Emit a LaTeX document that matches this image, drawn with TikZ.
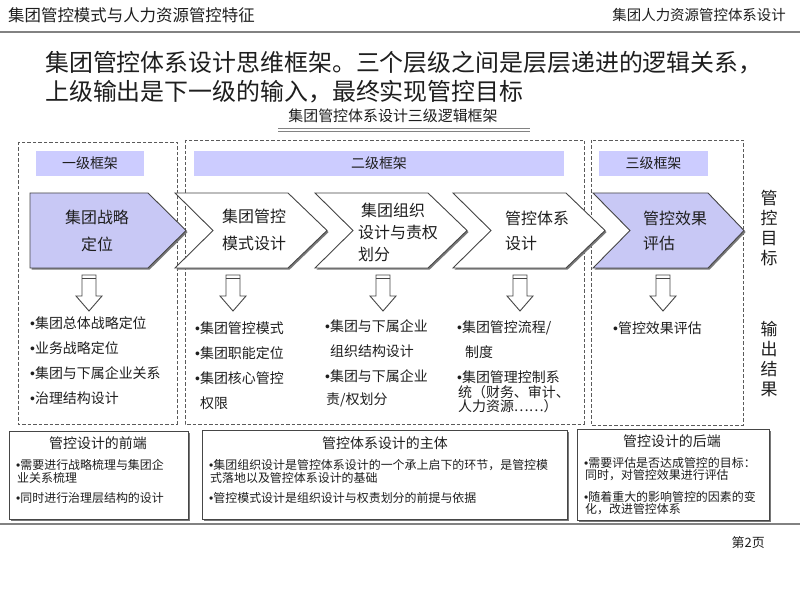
\documentclass[tikz,border=0pt]{standalone}
\usepackage{fontspec}
\setmainfont{Noto Sans CJK SC}
\newfontfamily\bulfont{Liberation Sans}
\newcommand\bul{{\bulfont •}}
\definecolor{lavfill}{RGB}{204,204,255}
\definecolor{chevfill}{RGB}{200,200,245}
\definecolor{dashgray}{RGB}{90,90,90}
\definecolor{chevline}{RGB}{70,70,70}
\definecolor{shadowgray}{RGB}{120,120,120}
\definecolor{textc}{RGB}{30,30,30}
\definecolor{rulegray}{RGB}{130,130,130}
\newcommand\hollowarrow[2]{%
  \draw[harrow] ({#1-7},275) -- ({#1+7},275) -- ({#1+7},296) -- ({#1+13},296) -- (#1,311) -- ({#1-13},296) -- ({#1-7},296) -- cycle;
  \draw[harrow] ({#1-7},278.5) -- ({#1+7},278.5);
  \coordinate (#2) at (#1,311);}
\begin{document}
\begin{tikzpicture}[x=1bp,y=-1bp,
  every node/.style={inner sep=0pt, text=textc},
  fs/.style={font=\fontsize{#1}{#1}\selectfont},
  dbox/.style={draw=dashgray, line width=0.9bp, dash pattern=on 3.5bp off 2bp},
  lblbox/.style={fill=lavfill, font=\fontsize{14}{14}\selectfont, minimum height=25bp},
  chev/.style={draw=chevline, line width=0.9bp},
  shad/.style={fill=shadowgray, draw=none},
  item/.style={anchor=west, font=\fontsize{14}{14}\selectfont},
  sitem/.style={anchor=west, font=\fontsize{12}{12}\selectfont},
  stitle/.style={font=\fontsize{14}{14}\selectfont},
  sbox/.style={draw=chevline, fill=white, line width=1bp},
  harrow/.style={draw=chevline, fill=white, line width=0.9bp},
  ctext/.style={anchor=west, font=\fontsize{16}{16}\selectfont},
  vtext/.style={font=\fontsize{17}{20}\selectfont, align=center},
]
\useasboundingbox[fill=white] (0,0) rectangle (800,600);

% header
\node[anchor=west, fs=16.5] (hl) at (8,15) {集团管控模式与人力资源管控特征};
\node[anchor=east, fs=14.5] (hr) at (786,15) {集团人力资源管控体系设计};
\draw[rulegray, line width=2.5bp] (0,32) -- (800,32);

% title
\node[anchor=west, fs=24] (t1) at (45,63) {集团管控体系设计思维框架。三个层级之间是层层递进的逻辑关系，};
\node[anchor=west, fs=24] (t2) at (45,92) {上级输出是下一级的输入，最终实现管控目标};
\node[fs=15] (sub) at (393,116) {集团管控体系设计三级逻辑框架};
\draw[rulegray, line width=0.9bp] (278,128.5) -- (530,128.5);
\draw[rulegray, line width=0.9bp] (278,131.5) -- (530,131.5);

% dashed frames
\draw[dbox] (18,142) rectangle (177,424);
\draw[dbox] (185,140) rectangle (584,424);
\draw[dbox] (591,140) rectangle (743,425);

% level labels
\node[lblbox, minimum width=108bp] (lab1) at (90,163.5) {一级框架};
\node[lblbox, minimum width=370bp] (lab2) at (379,163.5) {二级框架};
\node[lblbox, minimum width=109bp] (lab3) at (653.5,163.5) {三级框架};

% chevron shadows
\begin{scope}[shift={(1.6,1.6)}]
\fill[shad] (30,193) -- (148,193) -- (186,230.5) -- (148,268) -- (30,268) -- cycle;
\fill[shad] (175,193) -- (288,193) -- (327,230.5) -- (288,268) -- (175,268) -- (213,230.5) -- cycle;
\fill[shad] (315,193) -- (428,193) -- (467,230.5) -- (428,268) -- (315,268) -- (353,230.5) -- cycle;
\fill[shad] (453,193) -- (566,193) -- (605,230.5) -- (566,268) -- (453,268) -- (491,230.5) -- cycle;
\fill[shad] (593,193) -- (708,193) -- (744,230.5) -- (708,268) -- (593,268) -- (630,230.5) -- cycle;
\end{scope}
% chevrons
\draw[chev, fill=chevfill] (30,193) -- (148,193) -- (186,230.5) -- (148,268) -- (30,268) -- cycle;
\draw[chev, fill=white] (175,193) -- (288,193) -- (327,230.5) -- (288,268) -- (175,268) -- (213,230.5) -- cycle;
\draw[chev, fill=white] (315,193) -- (428,193) -- (467,230.5) -- (428,268) -- (315,268) -- (353,230.5) -- cycle;
\draw[chev, fill=white] (453,193) -- (566,193) -- (605,230.5) -- (566,268) -- (453,268) -- (491,230.5) -- cycle;
\draw[chev, fill=chevfill] (593,193) -- (708,193) -- (744,230.5) -- (708,268) -- (593,268) -- (630,230.5) -- cycle;

% chevron texts
\node[fs=16] (c1a) at (97,217) {集团战略};
\node[fs=16] (c1b) at (97,244) {定位};
\node[ctext] (c2a) at (222,216) {集团管控};
\node[ctext] (c2b) at (222,243) {模式设计};
\node[ctext] (c3a) at (361,210) {集团组织};
\node[ctext] (c3b) at (358,232) {设计与责权};
\node[ctext] (c3c) at (358,254) {划分};
\node[ctext] (c4a) at (505,218) {管控体系};
\node[ctext] (c4b) at (505,243) {设计};
\node[ctext] (c5a) at (643,218) {管控效果};
\node[ctext] (c5b) at (643,243) {评估};

% right vertical labels
\node[vtext, anchor=north] (goal) at (769,190) {管\\控\\目\\标};
\node[vtext, anchor=north] (out) at (769,321) {输\\出\\结\\果};

% hollow down arrows
\hollowarrow{89}{a1}
\hollowarrow{233}{a2}
\hollowarrow{383}{a3}
\hollowarrow{520}{a4}
\hollowarrow{663}{a5}

% lists
\node[item] (l1a) at (30,323) {\bul 集团总体战略定位};
\node[item] (l1b) at (30,348) {\bul 业务战略定位};
\node[item] (l1c) at (30,373) {\bul 集团与下属企业关系};
\node[item] (l1d) at (30,398) {\bul 治理结构设计};

\node[item] (l2a) at (195,328) {\bul 集团管控模式};
\node[item] (l2b) at (195,353) {\bul 集团职能定位};
\node[item] (l2c) at (195,378) {\bul 集团核心管控};
\node[item] (l2d) at (200,403) {权限};

\node[item] (l3a) at (325,326) {\bul 集团与下属企业};
\node[item] (l3b) at (330,351) {组织结构设计};
\node[item] (l3c) at (325,376) {\bul 集团与下属企业};
\node[item] (l3d) at (326,400) {责/权划分};

\node[item] (l4a) at (457,328) {\bul 集团管控流程/};
\node[item] (l4b) at (465,352) {制度};
\node[item] (l4c) at (457,377) {\bul 集团管理控制系};
\node[item] (l4d) at (458,392) {统（财务、审计、};
\node[item] (l4e) at (458,406) {人力资源……）};

\node[item] (l5a) at (613,328) {\bul 管控效果评估};

% bottom boxes
\fill[shad] (11,433) rectangle (190,521);
\fill[shad] (204,432) rectangle (569,521);
\fill[shad] (579,431) rectangle (771,522);
\draw[sbox] (9,431) rectangle (188,519);
\draw[sbox] (202,430) rectangle (567,519);
\draw[sbox] (577,429) rectangle (769,520);

\node[stitle] (ba) at (98,443) {管控设计的前端};
\node[sitem] (ba1) at (16,465) {\bul 需要进行战略梳理与集团企};
\node[sitem] (ba2) at (17,478) {业关系梳理};
\node[sitem] (ba3) at (16,498) {\bul 同时进行治理层结构的设计};

\node[stitle] (bb) at (385,443) {管控体系设计的主体};
\node[sitem] (bb1) at (209,465) {\bul 集团组织设计是管控体系设计的一个承上启下的环节，是管控模};
\node[sitem] (bb2) at (210,478) {式落地以及管控体系设计的基础};
\node[sitem] (bb3) at (209,498) {\bul 管控模式设计是组织设计与权责划分的前提与依据};

\node[stitle] (bc) at (672,441) {管控设计的后端};
\node[sitem] (bc1) at (584,463) {\bul 需要评估是否达成管控的目标：};
\node[sitem] (bc2) at (585,475) {同时，对管控效果进行评估};
\node[sitem] (bc3) at (584,497) {\bul 随着重大的影响管控的因素的变};
\node[sitem] (bc4) at (585,509) {化，改进管控体系};

\draw[rulegray, line width=2bp] (0,523.5) -- (800,523.5);
\node[anchor=east, fs=13] (page) at (765,543) {第2页};
\end{tikzpicture}
\end{document}
